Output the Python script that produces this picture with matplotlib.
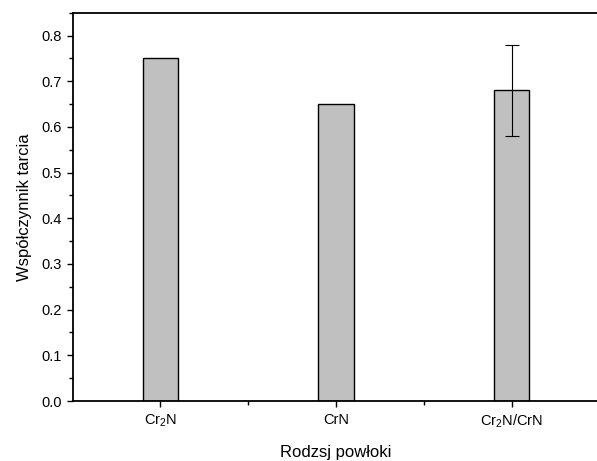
import matplotlib
matplotlib.use("Agg")
import matplotlib.pyplot as plt
from matplotlib.ticker import MultipleLocator

plt.rcParams['font.family'] = ['Liberation Sans', 'DejaVu Sans']
plt.rcParams['mathtext.fontset'] = 'custom'
plt.rcParams['mathtext.rm'] = 'Liberation Sans'
plt.rcParams['mathtext.it'] = 'Liberation Sans:italic'
plt.rcParams['mathtext.bf'] = 'Liberation Sans:bold'

categories = [r'Cr$_\mathregular{2}$N', 'CrN', r'Cr$_\mathregular{2}$N/CrN']
values = [0.75, 0.65, 0.68]
errors = [0.0, 0.0, 0.10]
x_label = 'Rodzsj powłoki'
y_label = 'Współczynnik tarcia'

W, H = 597, 461
fig = plt.figure(figsize=(W / 100, H / 100), dpi=100)
left, right, top, bottom = 72.5, 599.5, 12.7, 401.0
ax = fig.add_axes([left / W, (H - bottom) / H, (right - left) / W, (bottom - top) / H])

xpos = list(range(1, len(categories) + 1))
ax.bar(xpos, values, width=0.2, color='#c0c0c0', edgecolor='black', linewidth=1.0, zorder=2)
ex = [x for x, e in zip(xpos, errors) if e > 0]
ey = [v for v, e in zip(values, errors) if e > 0]
ee = [e for e in errors if e > 0]
ax.errorbar(ex, ey, yerr=ee, fmt='none', ecolor='black', elinewidth=0.8,
            capsize=5, capthick=0.8, zorder=3)

ax.set_xlim(0.5, 3.5)
ax.set_ylim(0, 0.85)
ax.set_xticks(xpos)
ax.set_xticklabels(categories, fontsize=10)
ax.set_xticks([1.5, 2.5], minor=True)
ax.yaxis.set_major_locator(MultipleLocator(0.1))
ax.yaxis.set_minor_locator(MultipleLocator(0.05))
ax.tick_params(axis='both', which='major', direction='out', length=4.5, width=1.0, labelsize=10.5, pad=3)
ax.tick_params(axis='both', which='minor', direction='out', length=2.8, width=1.0)
ax.tick_params(axis='x', which='major', pad=4)

ax.spines['right'].set_visible(False)
for s in ['top', 'left', 'bottom']:
    ax.spines[s].set_linewidth(1.3)

ax.set_xlabel(x_label, fontsize=12, labelpad=11)
ax.set_ylabel(y_label, fontsize=12, labelpad=7)

fig.savefig('out.png', dpi=100)
